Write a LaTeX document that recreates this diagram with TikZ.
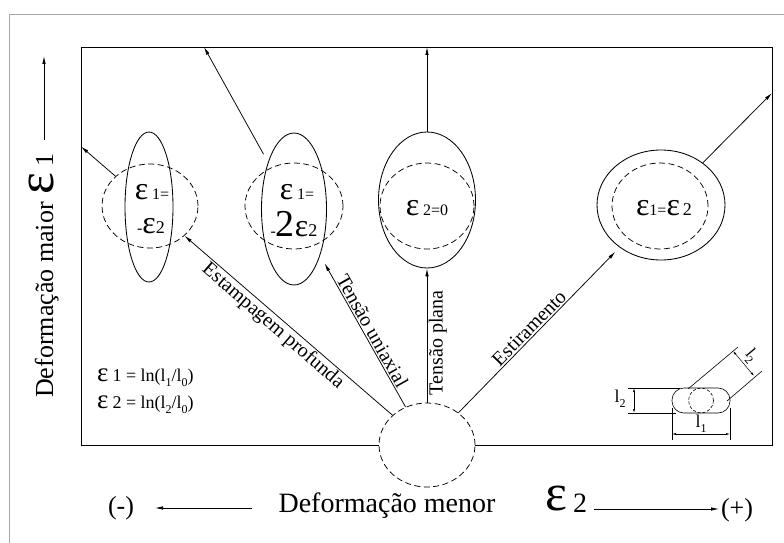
\documentclass[tikz,border=0pt]{standalone}
\usepackage{fontspec}
\setmainfont{Liberation Serif}
\usetikzlibrary{arrows.meta,shapes.geometric}
\newcommand\fsz[1]{\fontsize{#1}{#1}\selectfont}
\newcommand\subd[1]{\raisebox{-0.3em}{\fsz{12}#1}}
\begin{document}
\begin{tikzpicture}[x=1pt,y=-1pt,
  arr/.style={-{Latex[length=8pt,width=3.5pt]}, line width=0.75pt},
  dimarr/.style={{Latex[length=4pt,width=2pt]}-{Latex[length=4pt,width=2pt]}, line width=0.5pt},
  thin/.style={line width=0.6pt},
  dsh/.style={draw, dash pattern=on 6pt off 3.5pt, line width=0.75pt},
  sol/.style={draw, line width=0.85pt},
  ell/.style={ellipse, inner sep=0pt},
  txt/.style={inner sep=0pt},
  lab/.style={inner sep=1.5pt, font=\fsz{20}}]
\useasboundingbox (0,0) rectangle (784,543);
% outer frame
\draw[gray!70, line width=0.8pt] (9,543) -- (9,14) -- (784,14);
% inner box
\node[draw, line width=0.85pt, minimum width=691pt, minimum height=398pt, inner sep=0pt] (box) at (426.5,246) {};

% shapes
\node[ell, dsh, minimum width=96pt, minimum height=84pt] (d1) at (150,206) {};
\node[ell, sol, minimum width=48pt, minimum height=150pt] (s1) at (149,207) {};
\node[ell, dsh, minimum width=98pt, minimum height=86pt] (d2) at (294,206) {};
\node[ell, sol, minimum width=65pt, minimum height=152pt] (s2) at (294,209) {};
\node[ell, sol, minimum width=97pt, minimum height=136pt] (s3) at (427,200) {};
\node[ell, dsh, minimum width=94pt, minimum height=86pt] (d3) at (427,206) {};
\node[ell, sol, minimum width=128pt, minimum height=110pt] (s4) at (661,205) {};
\node[ell, dsh, minimum width=96pt, minimum height=86pt] (d4) at (660,206) {};
\node[ell, dsh, fill=white, minimum width=96pt, minimum height=84pt] (b) at (427,445) {};

% texts in shapes
\node[txt, anchor=base] (t1a) at (152,199) {{\fsz{32}ε}\hspace{4pt}{\fsz{16}1=}};
\node[txt, anchor=base] (t1b) at (151,233) {{\fsz{16}-}{\fsz{32}ε}{\fsz{18}2}};
\node[txt, anchor=base] (t2a) at (297,199) {{\fsz{32}ε}\hspace{4pt}{\fsz{16}1=}};
\node[txt, anchor=base] (t2b) at (294,236) {{\fsz{16}-}{\fsz{38}2}{\fsz{32}ε}{\fsz{18}2}};
\node[txt, anchor=base] (t3) at (427,215) {{\fsz{32}ε}\hspace{4pt}{\fsz{16}2=0}};
\node[txt, anchor=base] (t4) at (664,215) {{\fsz{32}ε}{\fsz{16}1=}{\fsz{32}ε}\hspace{3pt}{\fsz{18}2}};

% box exits
\coordinate (x1) at (81,146.5);
\coordinate (x2) at (204,47);
\coordinate (x3) at (427,47);
\coordinate (x4) at (772,93);
\draw[arr] (d1) -- (x1);
\draw[arr, shorten <=9pt] (s2) -- (x2);
\draw[arr] (s3) -- (x3);
\draw[arr] (s4) -- (x4);

% radial arrows
\draw[arr] (b) -- (d1);
\draw[arr, shorten >=9pt] (b) -- (s2);
\draw[arr] (b) -- (s3);
\draw[arr, shorten >=6pt] (b) -- (s4);

% labels on radial arrows
\node[lab, anchor=north, rotate=-40.8] (l1) at (280,318) {Estampagem profunda};
\node[lab, anchor=south, rotate=-60.6] (l2) at (365,335) {Tensão uniaxial};
\node[lab, anchor=north, rotate=90] (l3) at (427,343) {Tensão plana};
\node[lab, anchor=south, rotate=45.7] (l4) at (535,334) {Estiramento};

% legend
\node[txt, anchor=base west] (g1) at (97,381) {{\fsz{27}ε}\hspace{4pt}{\fsz{18}1 = ln(l\subd{1}/l\subd{0})}};
\node[txt, anchor=base west] (g2) at (97,408) {{\fsz{27}ε}\hspace{4pt}{\fsz{18}2 = ln(l\subd{2}/l\subd{0})}};

% small specimen icon
\draw[thin, rounded corners=12pt] (672,388) rectangle (730,413);
\draw[thin, dash pattern=on 3pt off 2pt] (701,400.5) circle (12.5);
\draw[thin] (672,408) -- (672,440);
\draw[thin] (730,408) -- (730,440);
\draw[dimarr] (672,434) -- (730,434);
\node[txt, font=\fsz{18}] (il1) at (701,424) {l\subd{1}};
\draw[thin] (628,388) -- (680,388);
\draw[thin] (628,413) -- (676,413);
\draw[dimarr] (634,388) -- (634,413);
\node[txt, font=\fsz{18}] (il2) at (620,399) {l\subd{2}};
\draw[thin] (688,389) -- (738,347);
\draw[thin] (727,401) -- (762,371);
\draw[dimarr] (733,351) -- (754,376);
\node[txt, font=\fsz{17}, rotate=-50] (il3) at (751,356) {l\subd{2}};

% vertical axis
\node[txt, anchor=base west, rotate=90] (ylab) at (53,398) {\fsz{26}Deformação maior\hspace{8pt}{\fsz{52}ε}\hspace{6pt}1};
\coordinate (ya) at (44,140);
\coordinate (yb) at (44,56);
\draw[arr] (ya) -- (yb);

% horizontal axis
\node[txt, anchor=base] (minus) at (121,514) {\fsz{26}(-)};
\node[txt, anchor=base] (xlab) at (387,512) {\fsz{28}Deformação menor};
\node[txt, anchor=base west] (eps2) at (545,510) {{\fsz{52}ε}\hspace{6pt}\raisebox{-2pt}{\fsz{28}2}};
\node[txt, anchor=base] (plus) at (737,516) {\fsz{26}(+)};
\coordinate (la) at (252,508);
\coordinate (lb) at (155,508);
\coordinate (ra) at (594,509);
\coordinate (rb) at (719,509);
\draw[arr] (la) -- (lb);
\draw[arr] (ra) -- (rb);
\end{tikzpicture}
\end{document}
